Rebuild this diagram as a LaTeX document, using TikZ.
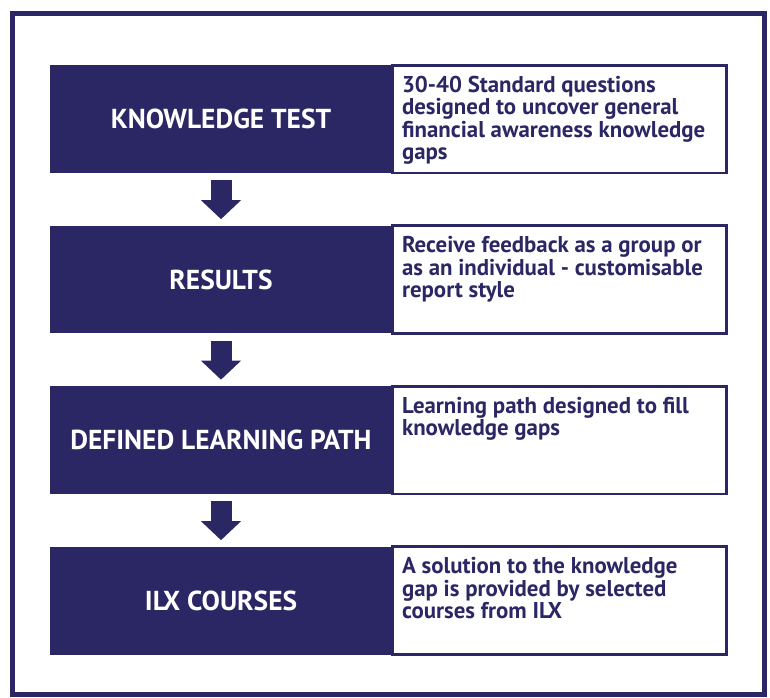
\documentclass[tikz,border=0pt]{standalone}
\usepackage{fontspec}
\setmainfont{PT Sans}
\usetikzlibrary{arrows.meta,positioning}
\definecolor{ilxNavy}{RGB}{43,39,101}
\newcommand{\infoText}[1]{\parbox[c][1.72cm][t]{6.3cm}{\raggedright #1}}
\tikzset{
  stageBox/.style={rectangle, fill=ilxNavy, text=white, inner sep=0pt,
                   font=\bfseries\fontsize{15.6}{18}\selectfont,
                   minimum width=6.84cm, minimum height=2.16cm, align=center},
  infoBox/.style={rectangle, draw=ilxNavy, fill=white, line width=1.7pt,
                  text=ilxNavy, inner xsep=0.2cm, inner ysep=0.22cm,
                  font=\bfseries\fontsize{13}{12.8}\selectfont,
                  minimum width=6.7cm, minimum height=2.16cm},
  stageArrow/.style={-{Triangle[width=0.78cm, length=0.38cm]}, draw=ilxNavy,
                     line width=0.42cm, shorten <=0.14cm, shorten >=0.12cm},
  outerFrame/.style={draw=ilxNavy, line width=0.1cm}
}

\begin{document}
\begin{tikzpicture}[x=0.02cm, y=-0.02cm]
\useasboundingbox (0,0) rectangle (770,697);

% Frame
\draw[outerFrame] (12.5,13) rectangle (764.5,694.5);

% Stage boxes
\node[stageBox] (knowTest)   at (221,119)   {KNOWLEDGE TEST};
\node[stageBox] (results)    at (221,279.5) {RESULTS};
\node[stageBox] (learnPath)  at (221,440)   {DEFINED LEARNING PATH};
\node[stageBox] (ilxCourses) at (221,600.5) {ILX COURSES};

% Info boxes
\node[infoBox] (knowTestInfo)   at (559.5,119)
  {\infoText{30-40 Standard questions\\designed to uncover general\\financial awareness knowledge\\gaps}};
\node[infoBox] (resultsInfo)    at (559.5,279.5)
  {\infoText{Receive feedback as a group or\\as an individual - customisable\\report style}};
\node[infoBox] (learnPathInfo)  at (559.5,440)
  {\infoText{Learning path designed to fill\\knowledge gaps}};
\node[infoBox] (ilxCoursesInfo) at (559.5,600.5)
  {\infoText{A solution to the knowledge\\gap is provided by selected\\courses from ILX}};

% Arrows
\draw[stageArrow] (knowTest.south)  -- (results.north);
\draw[stageArrow] (results.south)   -- (learnPath.north);
\draw[stageArrow] (learnPath.south) -- (ilxCourses.north);

\end{tikzpicture}
\end{document}
